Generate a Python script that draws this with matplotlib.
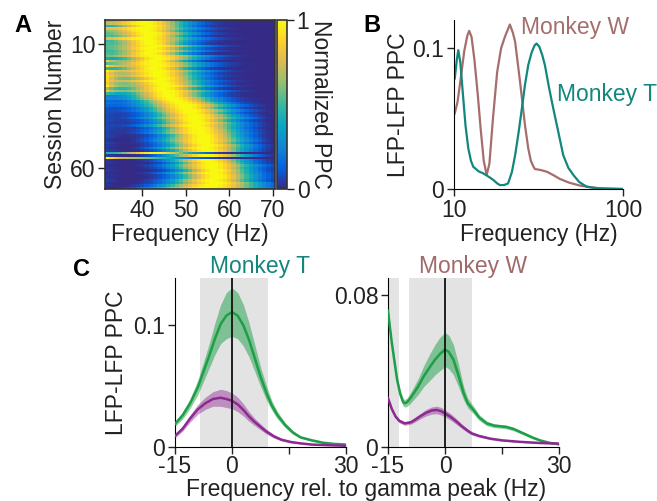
import numpy as np
import matplotlib
matplotlib.use("Agg")
import matplotlib.pyplot as plt
from matplotlib.colors import LinearSegmentedColormap

plt.rcParams['font.family'] = ['Liberation Sans', 'DejaVu Sans']
FS = 16.5
plt.rcParams['font.size'] = FS
TXT = '#222222'
plt.rcParams['text.color'] = TXT
plt.rcParams['axes.labelcolor'] = TXT
plt.rcParams['xtick.color'] = TXT
plt.rcParams['ytick.color'] = TXT

# ---------------- data: panel A (per-session spectral peak descriptors) ----------------
heat_freqs = np.arange(32, 71)  # Hz bins
session_peak_hz = [41, 41, 42, 41, 41, 42, 42, 41, 42, 42, 43, 42,
                   43, 42, 43, 44, 43, 43, 44, 43, 44, 44,
                   44, 45, 44, 45, 46, 45, 46, 46,
                   46, 47, 48, 49, 50, 50,
                   51, 51, 52, 52, 52, 53, 52, 53, 53,
                   53, 54, 54, 54, 54, 55, 54, 55,
                   43, 55, 40,
                   55, 56, 56, 56, 57, 56, 57, 57, 56, 57, 56, 55]
session_width_hz = [6.0, 6.5, 5.5, 7.0, 6.0, 6.5, 5.5, 7.5, 6.0, 5.5, 7.0, 6.0,
                    6.5, 5.5, 7.5, 6.0, 5.0, 7.0, 6.5, 5.5, 7.0, 6.0,
                    6.5, 5.5, 7.0, 6.0, 6.5, 5.5, 7.0, 6.0,
                    6.0, 6.5, 6.0, 6.5, 7.0, 6.0,
                    7.0, 6.0, 6.5, 7.5, 6.0, 6.5, 7.0, 6.0, 6.5,
                    7.0, 6.0, 6.5, 7.0, 6.0, 6.5, 7.0, 6.0,
                    6.0, 6.5, 8.0,
                    6.0, 5.5, 6.5, 6.0, 5.5, 6.5, 6.0, 6.0, 6.5, 7.0, 8.0, 9.0]
session_low_amp = [0.35, 0.4, 0.3, 0.45, 0.35, 0.3, 0.4, 0.35, 0.3, 0.4, 0.3, 0.35,
                   0.3, 0.4, 0.3, 0.3, 0.9, 0.3, 0.9, 0.4, 0.9, 0.9,
                   0.9, 1.0, 0.8, 0.9, 1.0, 0.7, 0.8, 0.5,
                   0.2, 0.25, 0.15, 0.2, 0.15, 0.1,
                   0.1, 0.1, 0.1, 0.1, 0.1, 0.1, 0.1, 0.1, 0.1,
                   0.1, 0.1, 0.1, 0.1, 0.1, 0.1, 0.1, 0.1,
                   0.3, 0.1, 1.5,
                   0.05, 0.05, 0.05, 0.05, 0.05, 0.05, 0.05, 0.05, 0.1, 0.05, 0.1, 0.05]

# ---------------- data: panel B ----------------
w_freq = [10.1, 10.5, 11.0, 11.5, 12.0, 12.3, 12.7, 13.2, 13.8, 14.4, 15.0, 15.6, 16.2, 17.0, 18.0,
          19.0, 20.0, 21.4, 22.3, 23.0, 24.6, 26.3, 27.5, 28.5, 29.5, 30.1, 32.5, 35.4, 38.5, 42.4,
          48.0, 55.7, 65.0, 73.0, 85.0, 100.0]
w_ppc = [0.0537, 0.062, 0.080, 0.098, 0.109, 0.1123, 0.108, 0.092, 0.068, 0.042, 0.020, 0.0099,
         0.018, 0.050, 0.083, 0.100, 0.108, 0.1168, 0.111, 0.1045, 0.076, 0.0454, 0.0288, 0.020,
         0.016, 0.0142, 0.0135, 0.0123, 0.0100, 0.0071, 0.0045, 0.0024, 0.0012, 0.0005, 0.0002, 0.0]
t_freq = [10.1, 10.4, 10.6, 10.9, 11.35, 11.7, 12.15, 12.6, 13.0, 14.0, 14.9, 16.0, 17.1, 18.0,
          18.7, 19.8, 20.9, 22.0, 23.0, 24.1, 25.2, 26.3, 27.5, 28.8, 30.0, 30.8, 32.0, 33.3, 34.5,
          36.5, 38.7, 41.5, 44.3, 47.5, 50.9, 55.0, 61.0, 70.0, 85.0, 100.0]
t_ppc = [0.0785, 0.092, 0.0986, 0.090, 0.064, 0.045, 0.0289, 0.020, 0.0158, 0.0125, 0.0111, 0.0088,
         0.0064, 0.0040, 0.0028, 0.0028, 0.0040, 0.0120, 0.024, 0.040, 0.057, 0.074, 0.088, 0.097,
         0.102, 0.1033, 0.101, 0.095, 0.088, 0.072, 0.057, 0.040, 0.024, 0.015, 0.0099, 0.005,
         0.0016, 0.0005, 0.0002, 0.0]

# ---------------- data: panel C, Monkey T ----------------
cT_freq = [-15, -13, -11, -9, -7.5, -6, -4.5, -3, -1.5, 0, 1.5, 3, 4.5, 6, 7.5, 9, 10.5, 12, 14,
           16, 18, 21, 24, 27, 30]
cT_green = [0.019, 0.026, 0.036, 0.049, 0.062, 0.075, 0.089, 0.101, 0.108, 0.111, 0.108, 0.100,
            0.088, 0.073, 0.058, 0.045, 0.034, 0.026, 0.018, 0.012, 0.008, 0.0055, 0.0035, 0.0025, 0.002]
cT_green_sem = [0.002, 0.003, 0.004, 0.006, 0.008, 0.010, 0.013, 0.016, 0.019, 0.020, 0.019, 0.017,
                0.014, 0.011, 0.008, 0.006, 0.004, 0.003, 0.002, 0.0015, 0.001, 0.0008, 0.0006,
                0.0005, 0.0005]
cT_pfreq = [-15, -13, -11, -9, -7, -5, -3, -1.5, 0, 1.5, 3, 4.5, 6, 7.5, 9, 11, 13, 15.5, 18, 21,
            25, 30]
cT_purple = [0.0091, 0.015, 0.0235, 0.031, 0.036, 0.0395, 0.0405, 0.0395, 0.038, 0.035, 0.0305,
             0.025, 0.0205, 0.0166, 0.0128, 0.0088, 0.006, 0.0041, 0.003, 0.002, 0.0015, 0.001]
cT_purple_sem = [0.0015, 0.002, 0.003, 0.004, 0.005, 0.006, 0.007, 0.007, 0.0065, 0.006, 0.005,
                 0.004, 0.003, 0.0025, 0.002, 0.0015, 0.001, 0.0008, 0.0005, 0.0004, 0.0003, 0.0003]

# ---------------- data: panel C, Monkey W ----------------
cW_freq = [-15, -14.5, -14, -13.3, -12.6, -11.8, -11, -10.6, -10, -9, -8, -7, -5.6, -4, -2.6, -1.3,
           0, 1, 2.2, 3.5, 4.9, 6, 7.5, 9, 11, 13, 16, 18, 20.7, 23, 25, 27.5, 30]
cW_green = [0.0717, 0.063, 0.0549, 0.045, 0.0354, 0.028, 0.0235, 0.023, 0.0235, 0.026, 0.029,
            0.032, 0.0372, 0.042, 0.046, 0.049, 0.0513, 0.050, 0.046, 0.038, 0.0283, 0.023, 0.0195,
            0.0155, 0.0124, 0.0112, 0.0106, 0.0095, 0.0071, 0.005, 0.0035, 0.0022, 0.0014]
cW_green_sem = [0.001, 0.001, 0.0012, 0.0015, 0.0018, 0.002, 0.002, 0.002, 0.0022, 0.0028, 0.0035,
                0.0042, 0.0055, 0.007, 0.008, 0.0088, 0.009, 0.0088, 0.008, 0.006, 0.0035, 0.0025,
                0.002, 0.0015, 0.0012, 0.001, 0.001, 0.0009, 0.0008, 0.0006, 0.0005, 0.0004, 0.0003]
cW_pfreq = [-15, -14, -13, -12, -10.6, -9, -8, -6.5, -5, -3.5, -2.2, -1, 0, 1.5, 3, 4.5, 6, 7.1, 9,
            11.9, 15, 19.8, 25, 30]
cW_purple = [0.0257, 0.020, 0.0160, 0.0137, 0.0124, 0.0130, 0.0142, 0.0162, 0.0180, 0.0192, 0.0195,
             0.0188, 0.0177, 0.0158, 0.0134, 0.0108, 0.0085, 0.0071, 0.0058, 0.0044, 0.0035, 0.0027,
             0.0021, 0.0018]
cW_purple_sem = [0.001, 0.001, 0.001, 0.001, 0.001, 0.001, 0.0012, 0.0014, 0.0017, 0.0019, 0.002,
                 0.002, 0.0019, 0.0017, 0.0015, 0.0012, 0.001, 0.0008, 0.0007, 0.0005, 0.0004,
                 0.0003, 0.0003, 0.0003]

# ---------------- figure ----------------
W, H = 657, 501
fig = plt.figure(figsize=(W / 100, H / 100), dpi=100)


def px_axes(x0, y0, x1, y1):
    return fig.add_axes([x0 / W, 1 - y1 / H, (x1 - x0) / W, (y1 - y0) / H])


def style_ticks(ax, pad=2):
    ax.tick_params(direction='out', length=5, width=1, labelsize=FS, pad=pad)


# parula-like colormap
parula = LinearSegmentedColormap.from_list('parula', [
    (0.00, (0.208, 0.166, 0.529)), (0.125, (0.012, 0.388, 0.882)), (0.25, (0.078, 0.522, 0.831)),
    (0.375, (0.024, 0.655, 0.776)), (0.5, (0.220, 0.725, 0.620)), (0.625, (0.573, 0.749, 0.451)),
    (0.75, (0.851, 0.729, 0.337)), (0.875, (0.988, 0.808, 0.180)), (1.0, (0.976, 0.984, 0.055))])

# Panel A
f = heat_freqs.astype(float)
rows = []
for p, w, a in zip(session_peak_hz, session_width_hz, session_low_amp):
    v = np.exp(-0.5 * ((f - p) / w) ** 2) + a * np.exp(-(f - 31.5) / 4.0)
    rows.append((v - v.min()) / (v.max() - v.min()))
mat = np.array(rows)
nsess = len(session_peak_hz)
axA = px_axes(105, 20, 275, 189)
im = axA.imshow(mat, cmap=parula, aspect='auto', vmin=0, vmax=1, interpolation='nearest',
                extent=[heat_freqs[0] - 0.5, heat_freqs[-1] + 0.5, nsess + 0.5, 0.5])
axA.set_xticks([40, 50, 60, 70])
axA.set_yticks([10, 60])
axA.set_xlabel('Frequency (Hz)', labelpad=1)
axA.set_ylabel('Session Number', labelpad=2)
style_ticks(axA)
for s in axA.spines.values():
    s.set_linewidth(1.2)
    s.set_color('#333333')
cax = px_axes(277, 20, 287, 189)
cb = fig.colorbar(im, cax=cax, ticks=[0, 1])
cb.ax.set_yticklabels(['0', '1'])
cb.ax.tick_params(direction='out', length=5, width=1, labelsize=FS, pad=2)
cb.outline.set_linewidth(1.2)
cb.outline.set_edgecolor('#333333')
cb.set_label('Normalized PPC', rotation=270, labelpad=16, fontsize=FS)

# Panel B
axB = px_axes(454, 20, 623, 189)
teal = '#11877e'
brown = '#a56e6c'
axB.plot(w_freq, w_ppc, color=brown, lw=1.6)
axB.plot(t_freq, t_ppc, color=teal, lw=1.6)
axB.set_xscale('log')
axB.set_xlim(10, 100)
axB.set_ylim(0, 0.12)
axB.set_xticks([10, 100])
axB.set_xticklabels(['10', '100'])
axB.xaxis.set_minor_locator(matplotlib.ticker.NullLocator())
axB.set_yticks([0, 0.1])
axB.set_yticklabels(['0', '0.1'])
axB.spines['top'].set_visible(False)
axB.spines['right'].set_visible(False)
axB.set_xlabel('Frequency (Hz)', labelpad=1)
axB.set_ylabel('LFP-LFP PPC', labelpad=2)
style_ticks(axB)
axB.text(25.0, 0.115, 'Monkey W', color=brown, fontsize=FS, va='center', ha='left')
axB.text(40.5, 0.0674, 'Monkey T', color=teal, fontsize=FS, va='center', ha='left')

# Panel C
green = '#1e9e48'
purple = '#8d2a92'
gray = '#e3e3e3'


def panelC(rect, ymax, yticks, ylabels, spans, gx, gy, gs, px, py, ps, title, tcolor, ylabel):
    ax = px_axes(*rect)
    for a, b in spans:
        ax.axvspan(a, b, color=gray, lw=0, zorder=0)
    gy, gs, py, ps = map(np.asarray, (gy, gs, py, ps))
    ax.fill_between(gx, gy - gs, gy + gs, color=green, alpha=0.5, lw=0, zorder=2)
    ax.plot(gx, gy, color=green, lw=1.8, zorder=3)
    ax.fill_between(px, py - ps, py + ps, color=purple, alpha=0.45, lw=0, zorder=2)
    ax.plot(px, py, color=purple, lw=1.8, zorder=3)
    ax.axvline(0, color='#111111', lw=1.3, zorder=4)
    ax.set_xlim(-15, 30)
    ax.set_ylim(0, ymax)
    ax.set_xticks([-15, 0, 15, 30])
    ax.set_xticklabels(['-15', '0', '', '30'])
    ax.set_yticks(yticks)
    ax.set_yticklabels(ylabels)
    ax.spines['top'].set_visible(False)
    ax.spines['right'].set_visible(False)
    style_ticks(ax)
    ax.tick_params(axis='x', pad=1)
    ax.set_title(title, color=tcolor, fontsize=FS, pad=2)
    if ylabel:
        ax.set_ylabel(ylabel, labelpad=4)
    return ax


panelC((175, 278, 346, 447), 0.139, [0, 0.1], ['0', '0.1'], [(-8.5, 9.5)],
       cT_freq, cT_green, cT_green_sem, cT_pfreq, cT_purple, cT_purple_sem,
       'Monkey T', '#14857d', 'LFP-LFP PPC')
panelC((388, 278, 559, 447), 0.0889, [0, 0.08], ['0', '0.08'], [(-15, -12), (-9.5, 7)],
       cW_freq, cW_green, cW_green_sem, cW_pfreq, cW_purple, cW_purple_sem,
       'Monkey W', '#a06a6a', None)
fig.text(366 / W, 1 - 478 / H, 'Frequency rel. to gamma peak (Hz)', ha='center', va='top',
         fontsize=FS)

# panel letters
fig.text(23 / W, 1 - 26 / H, 'A', fontsize=17, fontweight='bold', ha='center', va='center', color='black')
fig.text(372 / W, 1 - 26 / H, 'B', fontsize=17, fontweight='bold', ha='center', va='center', color='black')
fig.text(82 / W, 1 - 270 / H, 'C', fontsize=17, fontweight='bold', ha='center', va='center', color='black')

fig.savefig('out.png', dpi=100)
